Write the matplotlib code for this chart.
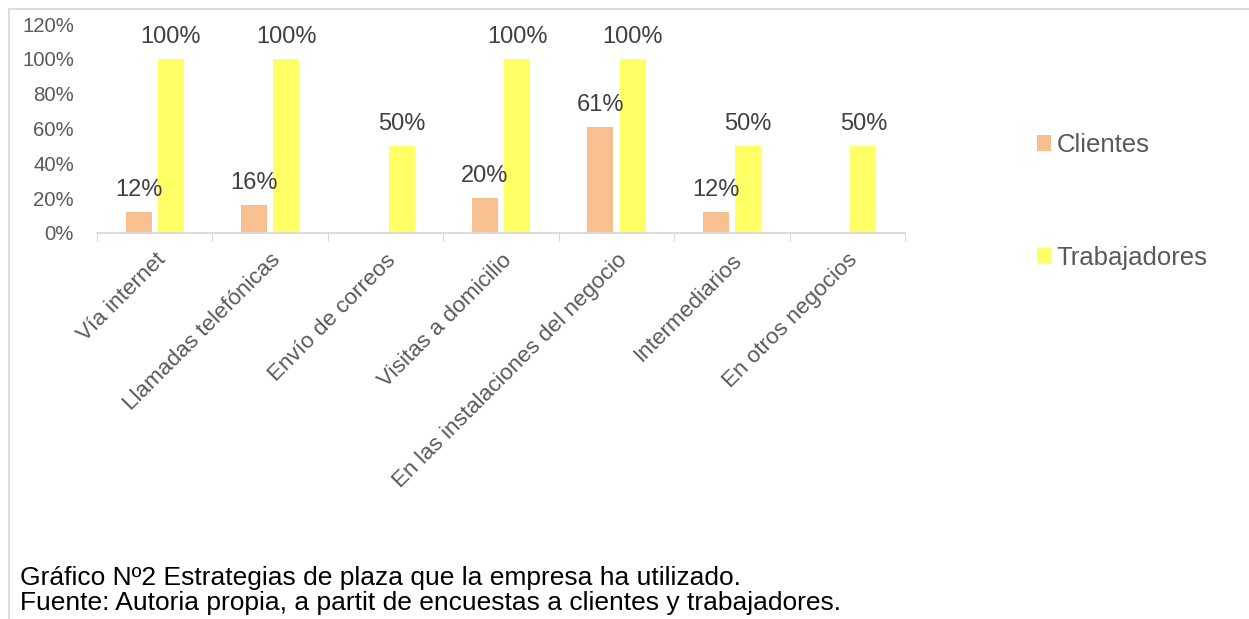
import matplotlib.pyplot as plt
import numpy as np
from matplotlib.patches import Rectangle

plt.rcParams['font.family'] = ['Liberation Sans', 'DejaVu Sans']

categorias = ["Vía internet", "Llamadas telefónicas", "Envío de correos",
              "Visitas a domicilio", "En las instalaciones del negocio",
              "Intermediarios", "En otros negocios"]
clientes = [0.12, 0.16, 0, 0.20, 0.61, 0.12, 0]
trabajadores = [1.0, 1.0, 0.5, 1.0, 1.0, 0.5, 0.5]

gris = "#595959"
W, H = 1249, 619
fig = plt.figure(figsize=(W / 100, H / 100), dpi=100)
ax = fig.add_axes([97 / W, 1 - 233 / H, (905 - 97) / W, (233 - 24) / H])

x = np.arange(len(categorias))
ancho = 0.225
b1 = ax.bar(x - 0.14, clientes, ancho, color="#F8BF90", label="Clientes")
b2 = ax.bar(x + 0.14, trabajadores, ancho, color="#FFFF66", label="Trabajadores")

for barras, vals in [(b1, clientes), (b2, trabajadores)]:
    for b, v in zip(barras, vals):
        if v == 0:
            continue
        ax.annotate(f"{v:.0%}", (b.get_x() + b.get_width() / 2, v),
                    xytext=(0, 8), textcoords="offset points",
                    ha="center", va="bottom", fontsize=17, color="#404040")

ax.set_xlim(-0.5, len(categorias) - 0.5)
ax.set_ylim(0, 1.2)
ax.set_yticks(np.arange(0, 1.21, 0.2))
ax.set_yticklabels([f"{t:.0%}" for t in np.arange(0, 1.21, 0.2)])
ax.tick_params(axis="y", length=0, labelsize=14.7, labelcolor=gris, pad=16.5)

# ticks between categories, labels at centers
ax.set_xticks(np.arange(-0.5, len(categorias), 1))
ax.set_xticklabels([])
ax.set_xticks(x, minor=True)
ax.set_xticklabels(categorias, minor=True, rotation=45, ha="right",
                   rotation_mode="anchor", fontsize=16.2, color=gris)
ax.tick_params(axis="x", which="major", length=6, color="#D9D9D9", direction="out")
ax.tick_params(axis="x", which="minor", length=0, pad=12)

for s in ["top", "right", "left"]:
    ax.spines[s].set_visible(False)
ax.spines["bottom"].set_color("#D9D9D9")
ax.spines["bottom"].set_linewidth(1.3)

ax.legend(loc="upper left", bbox_to_anchor=(1014 / W, 1 - 110 / H),
          bbox_transform=fig.transFigure, frameon=False, fontsize=18.5,
          labelcolor=gris, handlelength=0.55, handleheight=0.55,
          handletextpad=0.2, labelspacing=3.45)

fig.patches.append(Rectangle((9 / W, -0.1), 1.2, 1 - 9 / H + 0.1,
                             transform=fig.transFigure, fill=False,
                             edgecolor="#D9D9D9", linewidth=1.3))

fig.text(20 / W, 1 - 578 / H, "Gráfico Nº2 Estrategias de plaza que la empresa ha utilizado.",
         fontsize=19, color="black", va="center")
fig.text(20 / W, 1 - 603 / H, "Fuente: Autoria propia, a partit de encuestas a clientes y trabajadores.",
         fontsize=19, color="black", va="center")

fig.savefig("out.png", dpi=100)
